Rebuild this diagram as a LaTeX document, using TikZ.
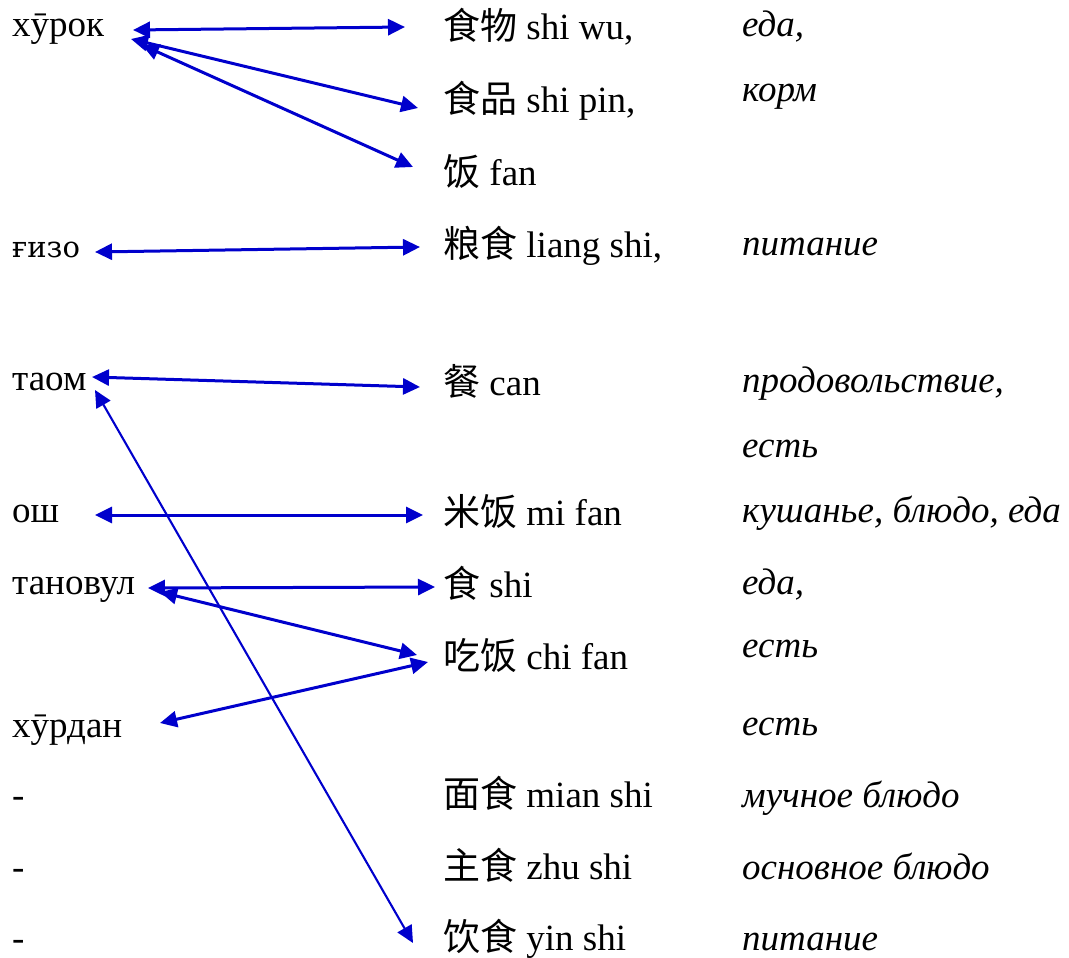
\documentclass[tikz,border=0pt]{standalone}
\usepackage{fontspec}
\setmainfont{Liberation Serif}
\newfontfamily\cjk{Noto Sans CJK SC}
\newfontfamily\altfont{DejaVu Serif}
\usetikzlibrary{arrows.meta}
\definecolor{linkblue}{RGB}{0,0,204}
\tikzset{
  word/.style={anchor=base west, inner sep=0pt, font=\fontsize{37}{44}\selectfont},
  gloss/.style={word, font=\fontsize{37}{44}\selectfont\itshape},
  link/.style={draw=linkblue, line width=3pt,
    {Triangle[length=17pt,width=16pt]}-{Triangle[length=17pt,width=16pt]}},
  thinlink/.style={link, line width=2.1pt}
}
\begin{document}
\begin{tikzpicture}[x=1pt,y=1pt]
\useasboundingbox (0,0) rectangle (1069,-958);

% Tajik words
\node[word] (L1) at (12,-37)  {хӯрок};
\node[word, font=\fontsize{29}{34}\selectfont\altfont] (L2) at (12,-257) {ғизо};
\node[word] (L3) at (12,-390) {таом};
\node[word] (L4) at (12,-522) {ош};
\node[word] (L5) at (12,-594) {тановул};
\node[word] (L6) at (12,-737) {хӯрдан};
\node[word] (L7) at (12,-807) {-};
\node[word] (L8) at (12,-879) {-};
\node[word] (L9) at (12,-950) {-};

% Chinese words with pinyin
\node[word] (M1)  at (443,-40)  {{\cjk 食物} shi wu,};
\node[word] (M2)  at (443,-112) {{\cjk 食品} shi pin,};
\node[word] (M3)  at (443,-185) {{\cjk 饭} fan};
\node[word] (M4)  at (443,-257) {{\cjk 粮食} liang shi,};
\node[word] (M5)  at (443,-395) {{\cjk 餐} can};
\node[word] (M6)  at (443,-525) {{\cjk 米饭} mi fan};
\node[word] (M7)  at (443,-597) {{\cjk 食} shi};
\node[word] (M8)  at (443,-669) {{\cjk 吃饭} chi fan};
\node[word] (M9)  at (443,-807) {{\cjk 面食} mian shi};
\node[word] (M10) at (443,-879) {{\cjk 主食} zhu shi};
\node[word] (M11) at (443,-950) {{\cjk 饮食} yin shi};

% Russian glosses
\node[gloss] (R1)  at (742,-37)  {еда,};
\node[gloss] (R2)  at (742,-102) {корм};
\node[gloss] (R3)  at (742,-255) {питание};
\node[gloss] (R4)  at (742,-392) {продовольствие,};
\node[gloss] (R5)  at (742,-457) {есть};
\node[gloss] (R6)  at (742,-522) {кушанье, блюдо, еда};
\node[gloss] (R7)  at (742,-594) {еда,};
\node[gloss] (R8)  at (742,-657) {есть};
\node[gloss] (R9)  at (742,-735) {есть};
\node[gloss] (R10) at (742,-807) {мучное блюдо};
\node[gloss] (R11) at (742,-879) {основное блюдо};
\node[gloss] (R12) at (742,-950) {питание};

% correspondences
\draw[link] ([shift={(121,7)}]L1.base west)   -- ([shift={(-38,13)}]M1.base west);
\draw[link] ([shift={(119,-2)}]L1.base west)  -- ([shift={(-25,4)}]M2.base west);
\draw[link] ([shift={(130,-8)}]L1.base west)  -- ([shift={(-30,18)}]M3.base west);
\draw[link] ([shift={(83,5)}]L2.base west)    -- ([shift={(-23,10)}]M4.base west);
\draw[link] ([shift={(80,13)}]L3.base west)   -- ([shift={(-23,8)}]M5.base west);
\draw[thinlink] ([shift={(83,0)}]L3.base west) -- ([shift={(-30,7)}]M11.base west);
\draw[link] ([shift={(83,7)}]L4.base west)    -- ([shift={(-20,10)}]M6.base west);
\draw[link] ([shift={(136,6)}]L5.base west)   -- ([shift={(-8,10)}]M7.base west);
\draw[link] ([shift={(148,2)}]L5.base west)   -- ([shift={(-26,14)}]M8.base west);
\draw[link] ([shift={(148,14)}]L6.base west)  -- ([shift={(-15,7)}]M8.base west);
\end{tikzpicture}
\end{document}
